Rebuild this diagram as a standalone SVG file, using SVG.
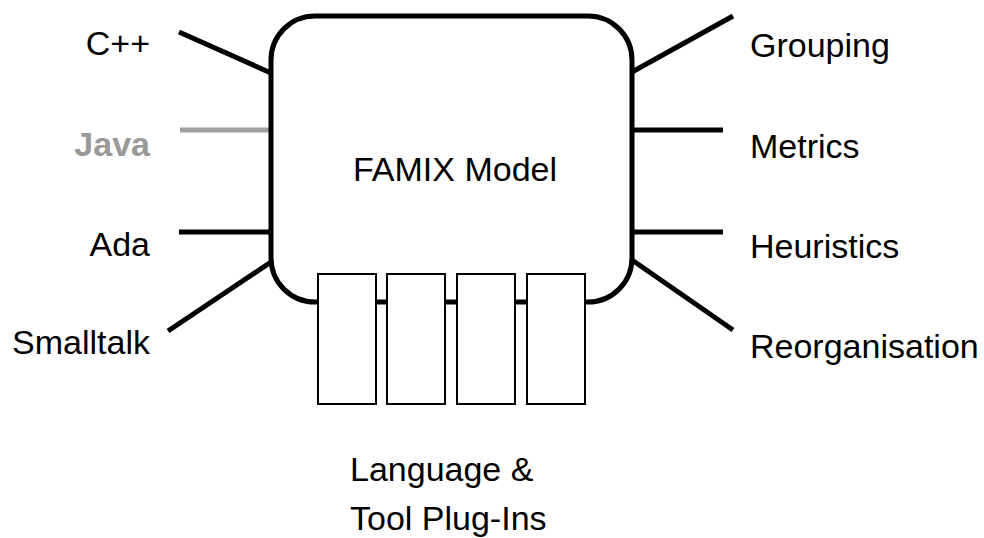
<svg xmlns="http://www.w3.org/2000/svg" width="984" height="538" viewBox="0 0 984 538">
  <style>
    .lbl { font-family: "Liberation Sans", Arial, sans-serif; font-size: 34px; fill: #000; }
    .left { text-anchor: end; }
    .java { font-weight: bold; fill: #999999; }
    .wire { stroke: #000; stroke-width: 5; fill: none; }
    .wire-gray { stroke: #a0a0a0; stroke-width: 5; fill: none; }
    .plug { fill: #fff; stroke: #000; stroke-width: 2; }
  </style>
  <rect width="984" height="538" fill="#fff"/>

  <!-- connectors from the model to languages and tools -->
  <g id="connectors">
    <line class="wire" x1="179" y1="32" x2="271" y2="73"/>
    <line class="wire-gray" x1="180" y1="130" x2="271" y2="130"/>
    <line class="wire" x1="179" y1="232" x2="271" y2="232"/>
    <line class="wire" x1="168" y1="331" x2="271" y2="262"/>
    <line class="wire" x1="632" y1="72" x2="733" y2="16"/>
    <line class="wire" x1="632" y1="130" x2="723" y2="130"/>
    <line class="wire" x1="632" y1="232" x2="723" y2="232"/>
    <line class="wire" x1="632" y1="260" x2="733" y2="330"/>
  </g>

  <!-- central model -->
  <g id="famix-model">
    <rect class="wire" x="271" y="16" width="361" height="286" rx="44" ry="44" fill="#fff"/>
    <text class="lbl" x="455" y="181" text-anchor="middle">FAMIX Model</text>
  </g>

  <!-- plug-in slots -->
  <g id="plugin-1"><rect class="plug" x="318" y="274" width="58" height="130"/></g>
  <g id="plugin-2"><rect class="plug" x="387" y="274" width="58" height="130"/></g>
  <g id="plugin-3"><rect class="plug" x="457" y="274" width="58" height="130"/></g>
  <g id="plugin-4"><rect class="plug" x="527" y="274" width="58" height="130"/></g>

  <!-- language labels -->
  <g id="cpp"><text class="lbl left" x="150" y="55">C++</text></g>
  <g id="java"><text class="lbl left java" x="150" y="156">Java</text></g>
  <g id="ada"><text class="lbl left" x="150" y="256">Ada</text></g>
  <g id="smalltalk"><text class="lbl left" x="150" y="354">Smalltalk</text></g>

  <!-- tool labels -->
  <g id="grouping"><text class="lbl" x="750" y="57">Grouping</text></g>
  <g id="metrics"><text class="lbl" x="750" y="158">Metrics</text></g>
  <g id="heuristics"><text class="lbl" x="750" y="258">Heuristics</text></g>
  <g id="reorganisation"><text class="lbl" x="750" y="358">Reorganisation</text></g>

  <!-- caption -->
  <g id="plugins-caption">
    <text class="lbl" x="350" y="481">Language &amp;</text>
    <text class="lbl" x="350" y="530">Tool Plug-Ins</text>
  </g>
</svg>
